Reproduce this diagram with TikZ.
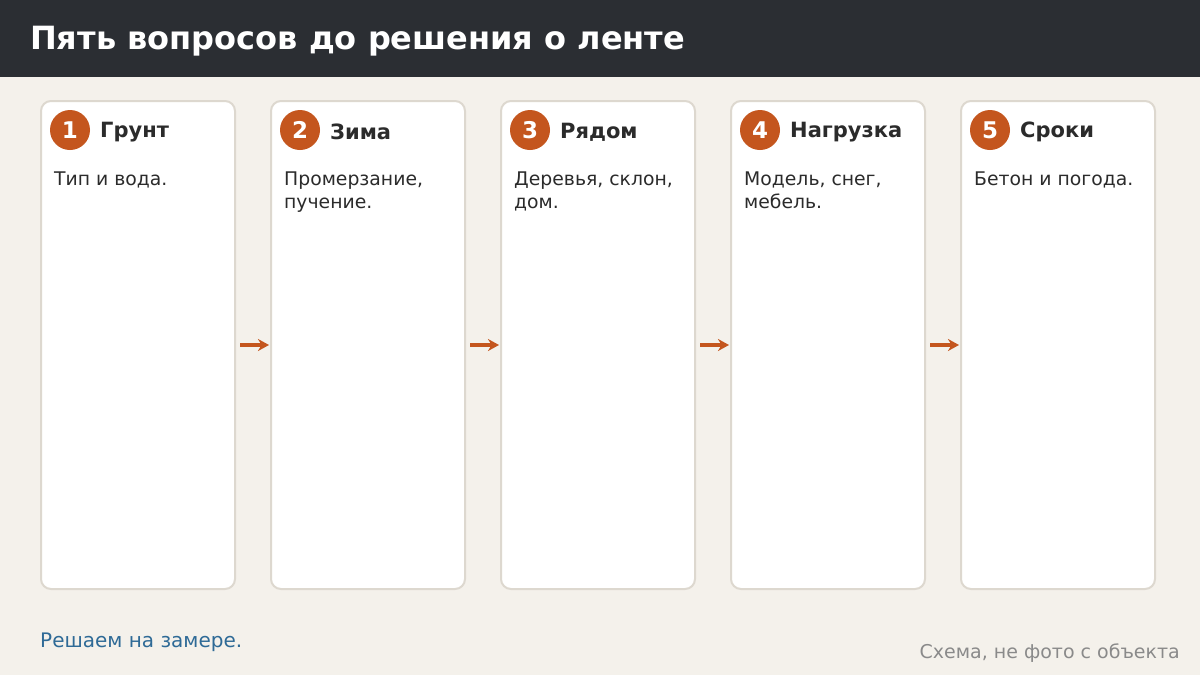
\documentclass[tikz,border=0pt]{standalone}
\usepackage{fontspec}
\setmainfont{DejaVu Sans}
\usetikzlibrary{arrows.meta}
\definecolor{bg}{HTML}{F4F1EB}
\definecolor{bar}{HTML}{2B2E33}
\definecolor{accent}{HTML}{C4561E}
\definecolor{cardline}{HTML}{DDD8CF}
\definecolor{ink}{HTML}{2B2B2B}
\definecolor{bluetxt}{HTML}{2E6A96}
\definecolor{graytxt}{HTML}{8A8A8A}
\tikzset{
  card/.style={draw=cardline, line width=2pt, fill=white, rounded corners=10pt},
  badge/.style={circle, fill=accent, minimum size=40pt, inner sep=0pt, text=white, font=\fontsize{23}{23}\selectfont\bfseries},
  head/.style={anchor=west, inner sep=0pt, text=ink, font=\fontsize{21}{21}\selectfont\bfseries},
  body/.style={anchor=north west, inner sep=0pt, text=ink, align=left, font=\fontsize{18.8}{22.5}\selectfont},
  flow/.style={draw=accent, line width=3.5pt, -{Stealth[length=11pt,width=12pt]}}
}
\begin{document}
\begin{tikzpicture}[x=1pt,y=-1pt]
\useasboundingbox (0,0) rectangle (1200,675);
\fill[bg] (0,0) rectangle (1200,675);
\fill[bar] (0,0) rectangle (1200,77);
\node[anchor=west, inner sep=0pt, text=white, font=\fontsize{32}{32}\selectfont\bfseries] (title) at (30,41) {Пять вопросов до решения о ленте};

\foreach \i/\h/\b [count=\n] in {41/Грунт/{Тип и вода.},271/Зима/{Промерзание,\\пучение.},501/Рядом/{Деревья, склон,\\дом.},731/Нагрузка/{Модель, снег,\\мебель.},961/Сроки/{Бетон и погода.}}{
  \draw[card] (\i,101) rectangle ++(194,488);
  \coordinate (l\n) at (\i,345);
  \coordinate (r\n) at (\i+194,345);
  \node[badge] (n\n) at (\i+29,130) {\n};
  \node[head] (h\n) at (\i+59,132) {\h};
  \node[body] (b\n) at (\i+13,172) {\b};
}
\foreach \a/\c in {1/2,2/3,3/4,4/5}{
  \draw[flow] ([xshift=5pt]r\a) -- ([xshift=-2pt]l\c);
}
\node[anchor=west, inner sep=0pt, text=bluetxt, font=\fontsize{20}{20}\selectfont] (foot) at (40,642) {Решаем на замере.};
\node[anchor=east, inner sep=0pt, text=graytxt, font=\fontsize{19}{19}\selectfont] (note) at (1180,653) {Схема, не фото с объекта};
\end{tikzpicture}
\end{document}
